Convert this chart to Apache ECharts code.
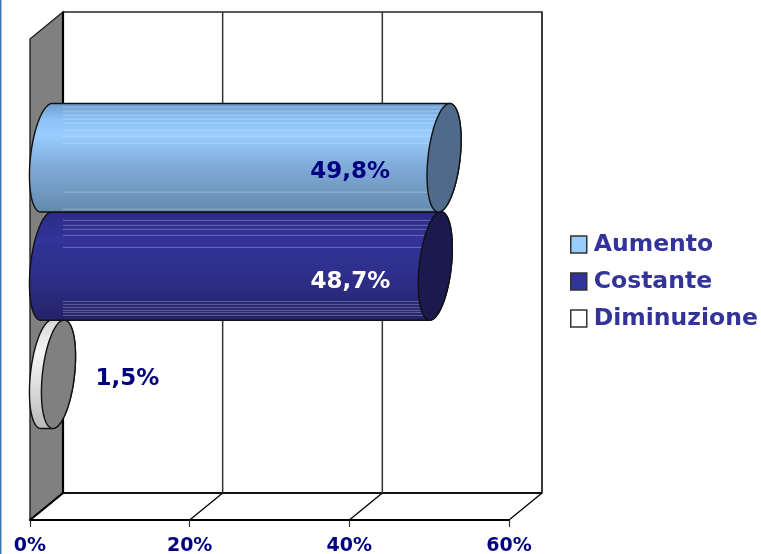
<!DOCTYPE html>
<html><head><meta charset="utf-8">
<style>html,body{margin:0;padding:0;background:#fff}#c{width:761px;height:554px}</style>
<script src="https://cdn.jsdelivr.net/npm/echarts@6/dist/echarts.min.js"></script>
</head><body><div id="c"></div>
<script>
const categories = [''];
const seriesNames = ['Aumento', 'Costante', 'Diminuzione'];
const aumento = [49.8];
const costante = [48.7];
const diminuzione = [1.5];
const valueLabels = ['49,8%', '48,7%', '1,5%'];
const tickValues = [0, 20, 40, 60];

const FONT = '"DejaVu Sans", Verdana, sans-serif';
const DX = 33, DY = 27;
const BAR_FRAC = 0.225;
const looks = [
  { cap:'#4f6a8a', label:'#000080', labelDx:-94, labelDy:14, swatch:'#99ccff',
    stops:[[0,'#6d9dcd'],[0.15,'#8dc0f4'],[0.3,'#99ccff'],[0.55,'#82aeda'],[0.8,'#7199c2'],[1,'#6288ad']],
    stripes:[3,7,11,15,19,26,32,39,88,105] },
  { cap:'#1a1a4f', label:'#ffffff', labelDx:-85, labelDy:16, swatch:'#333399',
    stops:[[0,'#2b2b85'],[0.25,'#333399'],[0.6,'#2e2e8a'],[1,'#232368']],
    stripes:[8,13,17,23,35,89,92,95,98,100,103] },
  { cap:'#808080', label:'#000080', labelDx:69, labelDy:5, swatch:'#ffffff',
    stops:[[0,'#d8d8d8'],[0.3,'#f6f6f6'],[0.6,'#dedede'],[1,'#b8b8b8']],
    stripes:[] }
];
const SKEW = 0.08;

function ellipse(cx, cy, r, a0, a1, n) {
  const ux = DX / 2, uy = -r * SKEW, vx = r * SKEW, vy = -r, pts = [];
  for (let i = 0; i <= n; i++) {
    const t = a0 + (a1 - a0) * i / n;
    pts.push([cx + Math.cos(t) * ux + Math.sin(t) * vx, cy + Math.cos(t) * uy + Math.sin(t) * vy]);
  }
  return pts;
}

function renderBar(idx) {
  return function (params, api) {
    const cs = params.coordSys, v = api.value(0);
    const band = api.size([0, 1])[1], t = band * BAR_FRAC, r = t / 2;
    const cy = api.coord([0, 0])[1] - DY / 2 + (idx - 1) * t;
    const x0 = api.coord([0, 0])[0] + DX / 2, x1 = api.coord([v, 0])[0] + DX / 2;
    const t0 = Math.atan2(1, SKEW);
    const lk = looks[idx];
    const body = ellipse(x0, cy, r, t0, t0 + Math.PI, 48).concat(ellipse(x1, cy, r, t0 + Math.PI, t0 + 2 * Math.PI, 48));
    const kids = [{
      type:'polygon', shape:{ points:body },
      style:{ fill:new echarts.graphic.LinearGradient(0,0,0,1,lk.stops.map(s=>({offset:s[0],color:s[1]}))), stroke:'#111', lineWidth:1.4 }
    }];
    const sx = cs.x + DX;
    if (x1 > sx) lk.stripes.forEach(o => kids.push({
      type:'line', shape:{ x1:sx, y1:cy - r + o + 0.5, x2:x1, y2:cy - r + o + 0.5 },
      style:{ stroke:'rgba(255,255,255,0.28)', lineWidth:1 }
    }));
    kids.push({
      type:'polygon', shape:{ points:ellipse(x1, cy, r, 0, 2 * Math.PI, 96) },
      style:{ fill:lk.cap, stroke:'#111', lineWidth:1.4 }
    });
    kids.push({
      type:'text', z2:20,
      style:{ x:x1 + lk.labelDx, y:cy + lk.labelDy, text:valueLabels[idx], fill:lk.label,
        font:'bold 23px ' + FONT, align:'center', verticalAlign:'middle' }
    });
    return { type:'group', children:kids };
  };
}

function renderFrame(params, api) {
  const cs = params.coordSys, b = cs.y + cs.height, kids = [];
  const L = cs.x, T = cs.y, bx = L + DX;
  kids.push({ type:'polygon', shape:{ points:[[L,T],[bx,T-DY],[bx,b-DY],[L,b]] }, style:{ fill:'#808080', stroke:'#222', lineWidth:1.4 } });
  kids.push({ type:'rect', shape:{ x:bx, y:T-DY, width:cs.width, height:cs.height }, style:{ fill:'none', stroke:'#222', lineWidth:1.5 } });
  kids.push({ type:'line', shape:{ x1:bx, y1:T-DY, x2:bx, y2:b-DY }, style:{ stroke:'#000', lineWidth:2.2 } });
  kids.push({ type:'line', shape:{ x1:bx, y1:b-DY, x2:bx+cs.width, y2:b-DY }, style:{ stroke:'#111', lineWidth:2 } });
  tickValues.forEach(tv => {
    const x = api.coord([tv, 0])[0];
    kids.push({ type:'line', shape:{ x1:x, y1:b, x2:x+DX, y2:b-DY }, style:{ stroke:'#000', lineWidth: tv === 0 ? 2.2 : 1.3 } });
    if (tv > 0) kids.push({ type:'line', shape:{ x1:x+DX, y1:T-DY, x2:x+DX, y2:b-DY }, style:{ stroke:'#333', lineWidth:1.5 } });
  });
  return { type:'group', children:kids };
}

const chart = echarts.init(document.getElementById('c'), null, { renderer:'canvas' });
const barData = [aumento, costante, diminuzione];
chart.setOption({
  animation:false,
  backgroundColor:'#ffffff',
  grid:{ left:30, top:39, width:479, height:481, containLabel:false, outerBoundsMode:'none' },
  xAxis:{ type:'value', min:tickValues[0], max:tickValues[3], interval:20,
    axisLine:{ show:true, lineStyle:{ color:'#000', width:2 } },
    axisTick:{ show:true, length:7, lineStyle:{ color:'#333', width:1.2 } },
    splitLine:{ show:false },
    axisLabel:{ formatter:'{value}%', color:'#000080', fontFamily:FONT, fontWeight:'bold', fontSize:19, margin:17 } },
  yAxis:{ type:'category', data:categories, axisLine:{ show:false }, axisTick:{ show:false }, axisLabel:{ show:false }, splitLine:{ show:false } },
  legend:{ orient:'vertical', left:570, top:232, padding:0, itemWidth:16, itemHeight:17, itemGap:12,
    data:seriesNames.map((n,i)=>({ name:n, icon:'rect', itemStyle:{ color:looks[i].swatch, borderColor:'#333', borderWidth:1.5 } })),
    textStyle:{ color:'#333399', fontFamily:FONT, fontWeight:'bold', fontSize:23.5, lineHeight:23, padding:[2,0,0,2] } },
  graphic:[{ type:'rect', left:0, top:0, shape:{ x:1, width:1.5, height:554 }, style:{ fill:'#3f78b4' }, silent:true }],
  series:[
    { type:'custom', name:'frame', z:1, data:[[0]], encode:{ x:0 }, renderItem:renderFrame, silent:true, clip:false },
    ...seriesNames.map((n,i)=>({
      type:'custom', name:n, z:6-i, data:[[barData[i][0], 0]], encode:{ x:0, y:1 },
      itemStyle:{ color:looks[i].swatch }, renderItem:renderBar(i), silent:true, clip:false
    }))
  ]
});
</script></body></html>
